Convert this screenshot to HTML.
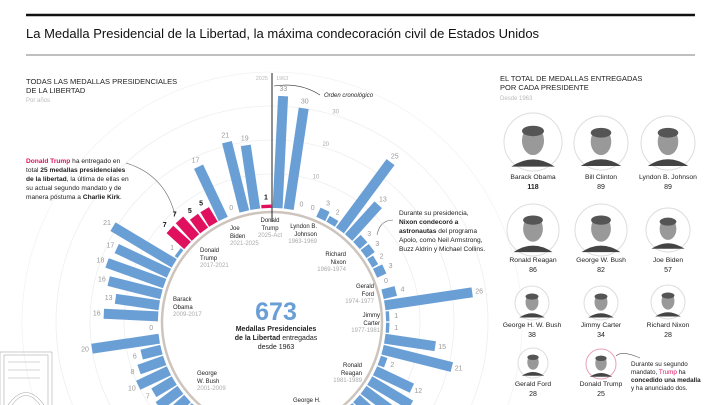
<!DOCTYPE html>
<html><head><meta charset="utf-8">
<style>
html,body{margin:0;background:#fff;width:720px;height:405px;overflow:hidden;font-family:"Liberation Sans",sans-serif;}
svg{display:block}
text{font-family:"Liberation Sans",sans-serif;}
</style></head>
<body>
<svg id="chart" width="720" height="405" viewBox="0 0 720 405" overflow="hidden">
  <line x1="26" y1="15" x2="695" y2="15" stroke="#111" stroke-width="2.5"/>
  <text x="26" y="38" font-size="13" fill="#111">La Medalla Presidencial de la Libertad, la máxima condecoración civil de Estados Unidos</text>
  <line x1="26" y1="55" x2="695" y2="55" stroke="#555" stroke-width="0.8"/>

  <g id="grid"></g>

  <text x="26" y="84" font-size="7.5" fill="#222">TODAS LAS MEDALLAS PRESIDENCIALES</text>
  <text x="26" y="93" font-size="7.5" fill="#222">DE LA LIBERTAD</text>
  <text x="26" y="102" font-size="6" fill="#bbb">Por años</text>

  <g font-size="6.6" fill="#222">
    <text x="26" y="163"><tspan fill="#e0105f" font-weight="bold">Donald Trump</tspan> ha entregado en</text>
    <text x="26" y="172">total <tspan font-weight="bold">25 medallas presidenciales</tspan></text>
    <text x="26" y="181"><tspan font-weight="bold">de la libertad</tspan>, la última de ellas en</text>
    <text x="26" y="190">su actual segundo mandato y de</text>
    <text x="26" y="199">manera póstuma a <tspan font-weight="bold">Charlie Kirk</tspan>.</text>
  </g>
  <path d="M126,163 Q165,175 175,215" fill="none" stroke="#666" stroke-width="0.6"/>

  <g font-size="6.6" fill="#222">
    <text x="399" y="215">Durante su presidencia,</text>
    <text x="399" y="224" font-weight="bold">Nixon condecoró a</text>
    <text x="399" y="233"><tspan font-weight="bold">astronautas</tspan> del programa</text>
    <text x="399" y="242">Apolo, como Neil Armstrong,</text>
    <text x="399" y="251">Buzz Aldrin y Michael Collins.</text>
  </g>
  <path d="M393,220 Q380,220 377,235" fill="none" stroke="#666" stroke-width="0.6"/>

  <g id="bars"></g>
  <g id="labels"></g>

  <line x1="272" y1="73" x2="272" y2="222" stroke="#222" stroke-width="1"/>
  <text x="268" y="80" font-size="5.5" fill="#bbb" text-anchor="end">2025</text>
  <text x="276" y="80" font-size="5.5" fill="#bbb">1963</text>
  <path d="M274,86 Q300,82 320,95" fill="none" stroke="#333" stroke-width="0.6"/>
  <text x="324" y="97" font-size="6" font-style="italic" fill="#222">Orden cronológico</text>

  <g font-size="6" fill="#222">
    <g text-anchor="middle"><text x="270" y="222">Donald</text><text x="270" y="230">Trump</text><text x="270" y="237" fill="#aaa">2025-Act</text></g>
    <g text-anchor="end">
      <text x="317" y="228">Lyndon B.</text><text x="317" y="236">Johnson</text><text x="317" y="243" fill="#aaa">1963-1969</text>
      <text x="346" y="256">Richard</text><text x="346" y="264">Nixon</text><text x="346" y="271" fill="#aaa">1969-1974</text>
      <text x="374" y="288">Gerald</text><text x="374" y="296">Ford</text><text x="374" y="303" fill="#aaa">1974-1977</text>
      <text x="380" y="317">Jimmy</text><text x="380" y="325">Carter</text><text x="380" y="332" fill="#aaa">1977-1981</text>
      <text x="362" y="367">Ronald</text><text x="362" y="375">Reagan</text><text x="362" y="382" fill="#aaa">1981-1989</text>
    </g>
    <text x="230" y="230">Joe</text><text x="230" y="238">Biden</text><text x="230" y="245" fill="#aaa">2021-2025</text>
    <text x="200" y="252">Donald</text><text x="200" y="260">Trump</text><text x="200" y="267" fill="#aaa">2017-2021</text>
    <text x="173" y="301">Barack</text><text x="173" y="309">Obama</text><text x="173" y="316" fill="#aaa">2009-2017</text>
    <text x="197" y="375">George</text><text x="197" y="383">W. Bush</text><text x="197" y="390" fill="#aaa">2001-2009</text>
    <text x="293" y="402">George H.</text>
  </g>

  <text x="276" y="320" font-size="25" font-weight="bold" fill="#6a9fd6" text-anchor="middle">673</text>
  <text x="276" y="331" font-size="7" font-weight="bold" fill="#222" text-anchor="middle">Medallas Presidenciales</text>
  <text x="276" y="340" font-size="7" fill="#222" text-anchor="middle"><tspan font-weight="bold">de la Libertad</tspan> entregadas</text>
  <text x="276" y="349" font-size="7" fill="#222" text-anchor="middle">desde 1963</text>

  <g stroke="#aaa" fill="none" stroke-width="0.6">
    <rect x="0" y="352" width="52" height="55"/>
    <rect x="4" y="355" width="44" height="52"/>
    <line x1="8" y1="362" x2="40" y2="362"/><line x1="8" y1="370" x2="40" y2="370"/><line x1="8" y1="378" x2="40" y2="378"/>
    <path d="M8,405 Q26,380 44,405"/><path d="M12,405 Q26,386 40,405"/>
  </g>

  <text x="500" y="81" font-size="7.5" fill="#222">EL TOTAL DE MEDALLAS ENTREGADAS</text>
  <text x="500" y="90" font-size="7.5" fill="#222">POR CADA PRESIDENTE</text>
  <text x="500" y="100" font-size="6" fill="#bbb">Desde 1963</text>
  <g id="portraits"></g>
  <g font-size="6.3" fill="#222">
    <text x="631" y="366">Durante su segundo</text>
    <text x="631" y="374">mandato, <tspan fill="#e0105f">Trump</tspan> ha</text>
    <text x="631" y="382" font-weight="bold">concedido una medalla</text>
    <text x="631" y="390">y ha anunciado dos.</text>
  </g>
  <path d="M616,356 Q622,350 640,358" fill="none" stroke="#555" stroke-width="0.6"/>
</svg>
<script>
// Medals per year, clockwise from 1963 (bottom part estimated)
const values = [33,30,0,0,3,2,25,13,3,3,2,3,0,4,26,1,1,15,21,2,12,
  14,18,20,10,6,8,12,15,10,5,10,9,12,15,13,8,10,12,14,10,8,7,
  10,8,6,20,0,16,13,16,18,17,21,1,7,7,5,5,17,0,21,19,1];
const highlight = [0,0,0,0,0,0,0,0,0,0,0,0,0,0,0,0,0,0,0,0,0,
  0,0,0,0,0,0,0,0,0,0,0,0,0,0,0,0,0,0,0,0,0,0,
  0,0,0,0,0,0,0,0,0,0,0,0,1,1,1,1,0,0,0,0,1];
const gridTicks = [10,20,30];
const presNames = ["Barack Obama","Bill Clinton","Lyndon B. Johnson","Ronald Reagan","George W. Bush","Joe Biden","George H. W. Bush","Jimmy Carter","Richard Nixon","Gerald Ford","Donald Trump"];
const presTotals = [118,89,89,86,82,57,38,34,28,28,25];

const NS="http://www.w3.org/2000/svg";
const cx=272, cy=322, r0=114, k=3.4;
const n=values.length, step=360/n;
function rScale(v){return r0+v*k;}
function angleOf(i){return (i+0.5)*step;}
function pt(a,r){const t=a*Math.PI/180;return [cx+r*Math.sin(t), cy-r*Math.cos(t)];}
function mk(tag,attrs,parent){const e=document.createElementNS(NS,tag);for(const a in attrs)e.setAttribute(a,attrs[a]);parent.appendChild(e);return e;}

const grid=document.getElementById('grid');
gridTicks.forEach(t=>{
  const c=mk('circle',{cx:cx,cy:cy,r:rScale(t),fill:'none',stroke:'#eee','stroke-width':0.8},grid);
  
  
});
const outer=mk('circle',{cx:cx,cy:cy,r:250,fill:'none',stroke:'#f3f3f3','stroke-width':0.8},grid);


gridTicks.forEach(t=>{
  const p=pt(17,rScale(t)+2);
  const tx=mk('text',{x:p[0],y:p[1],'font-size':6,fill:'#aaa','text-anchor':'middle'},grid);
  tx.textContent=t;
  
  
});
const ring=mk('circle',{cx:cx,cy:cy,r:r0-4,fill:'none',stroke:'#cdc5bd','stroke-width':2.5},grid);



const bars=document.getElementById('bars'), labels=document.getElementById('labels');
values.forEach((v,i)=>{
  const a=angleOf(i);
  const len=Math.max(v*k,0);
  if(v>0){
    const rc=mk('rect',{x:cx-5,y:cy-r0-len,width:10,height:len,fill:highlight[i]?'#e0105f':'#6a9fd6',transform:`rotate(${a} ${cx} ${cy})`},bars);
    
    
  }
  const p=pt(a,rScale(v)+7);
  const tx=mk('text',{x:p[0],y:p[1]+2,'font-size':7,fill:highlight[i]?'#111':'#999','font-weight':highlight[i]?'bold':'normal','text-anchor':'middle'},labels);
  tx.textContent=v;
  
  
});

const pos=[[533,142,29],[601,143,27],[668,143,27],[533,230,26],[601,230,26],[668,230,22],[532,303,17],[601,303,17],[668,302,17],[533,363,15],[601,364,15]];
const nameY=[179,179,179,262,262,262,327,327,327,386,386];
const pg=document.getElementById('portraits');
pos.forEach((p,i)=>{
  const g=mk('g',{},pg);
  
  
  mk('circle',{cx:p[0],cy:p[1],r:p[2],fill:'#fff',stroke:i===10?'#e8a0bb':'#ddd','stroke-width':1},g);
  const s=p[2];
  mk('path',{d:`M${p[0]-s*0.75},${p[1]+s*0.85} Q${p[0]},${p[1]+s*0.35} ${p[0]+s*0.75},${p[1]+s*0.85} Z`,fill:'#444'},g);
  mk('ellipse',{cx:p[0],cy:p[1]-s*0.05,rx:s*0.38,ry:s*0.5,fill:'#999'},g);
  mk('ellipse',{cx:p[0],cy:p[1]-s*0.38,rx:s*0.38,ry:s*0.18,fill:'#555'},g);
  const nm=mk('text',{x:p[0],y:nameY[i],'font-size':6.8,fill:'#222','text-anchor':'middle'},pg);
  nm.textContent=presNames[i];
  
  
  const vl=mk('text',{x:p[0],y:nameY[i]+10,'font-size':7,fill:'#222','font-weight':i===0?'bold':'normal','text-anchor':'middle'},pg);
  vl.textContent=presTotals[i];
  
  
});
</script>
</body></html>
